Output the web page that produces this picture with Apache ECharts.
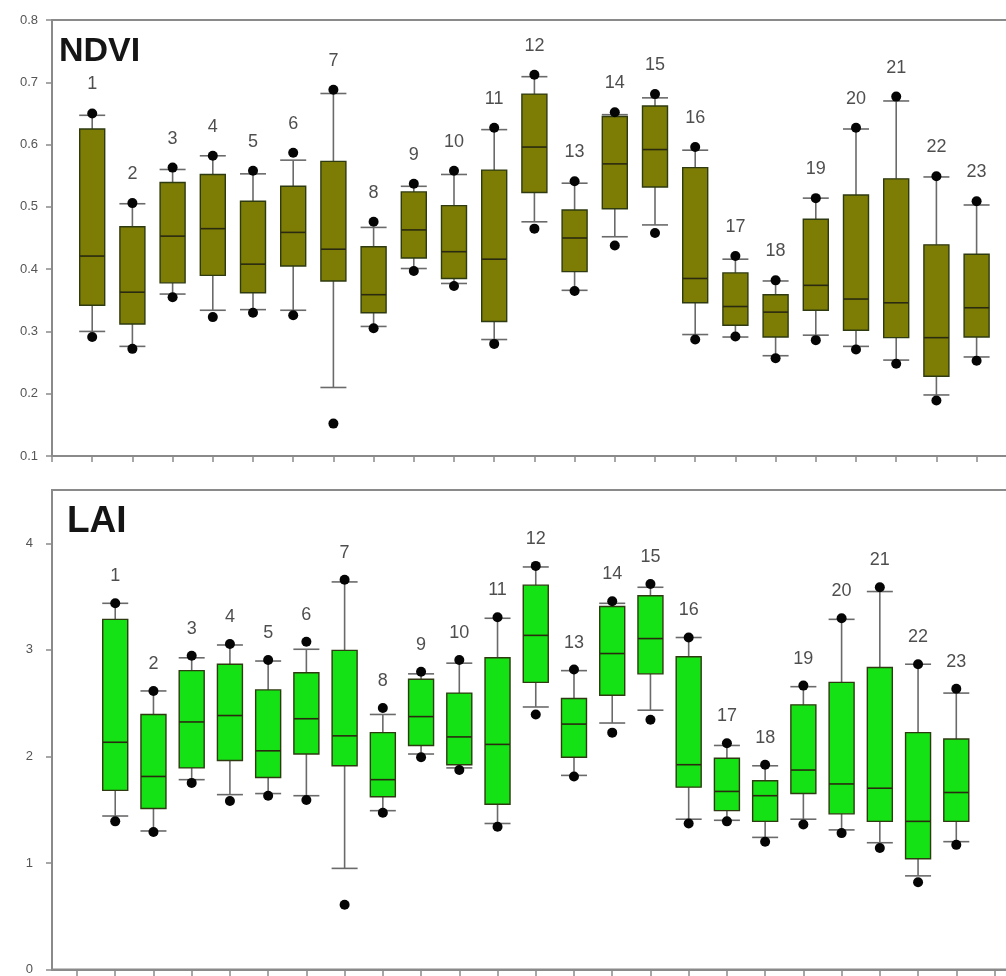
<!DOCTYPE html>
<html>
<head>
<meta charset="utf-8">
<script src="https://cdn.jsdelivr.net/npm/echarts@6/dist/echarts.min.js"></script>
<style>
html,body{margin:0;padding:0;background:#fff;overflow:hidden;}
#chart{width:1012px;height:976px;}
</style>
</head>
<body>
<div id="chart"></div>
<script>
// ---------- data ----------
const boxNames = ['1','2','3','4','5','6','7','8','9','10','11','12','13','14','15','16','17','18','19','20','21','22','23'];
const ndviTicks = [0.1,0.2,0.3,0.4,0.5,0.6,0.7,0.8];
const laiTicks = [0,1,2,3,4];

const ndviCapLo = [0.300,0.276,0.360,0.334,0.335,0.334,0.210,0.308,0.401,0.377,0.287,0.476,0.366,0.452,0.471,0.295,0.291,0.261,0.294,0.276,0.254,0.198,0.259];
const ndviQ1    = [0.342,0.312,0.378,0.390,0.362,0.405,0.381,0.330,0.418,0.385,0.316,0.523,0.396,0.497,0.532,0.346,0.310,0.291,0.334,0.302,0.290,0.228,0.291];
const ndviMed   = [0.421,0.363,0.453,0.465,0.408,0.459,0.432,0.359,0.463,0.428,0.416,0.596,0.450,0.569,0.592,0.385,0.340,0.331,0.374,0.352,0.346,0.290,0.338];
const ndviQ3    = [0.625,0.468,0.539,0.552,0.509,0.533,0.573,0.436,0.524,0.502,0.559,0.681,0.495,0.645,0.662,0.563,0.394,0.359,0.480,0.519,0.545,0.439,0.424];
const ndviCapHi = [0.647,0.505,0.560,0.582,0.553,0.575,0.682,0.467,0.533,0.552,0.624,0.709,0.538,0.648,0.675,0.591,0.416,0.381,0.514,0.625,0.670,0.548,0.503];
const ndviDotLo = [0.291,0.272,0.355,0.323,0.330,0.326,0.152,0.305,0.397,0.373,0.280,0.465,0.365,0.438,0.458,0.287,0.292,0.257,0.286,0.271,0.248,0.189,0.253];
const ndviDotHi = [0.650,0.506,0.563,0.582,0.558,0.587,0.688,0.476,0.537,0.558,0.627,0.712,0.541,0.652,0.681,0.596,0.421,0.382,0.514,0.627,0.677,0.549,0.509];

const laiCapLo = [1.45,1.31,1.79,1.65,1.66,1.64,0.96,1.50,2.03,1.90,1.38,2.47,1.83,2.32,2.44,1.42,1.41,1.25,1.42,1.32,1.20,0.89,1.21];
const laiQ1    = [1.69,1.52,1.90,1.97,1.81,2.03,1.92,1.63,2.11,1.93,1.56,2.70,2.00,2.58,2.78,1.72,1.50,1.40,1.66,1.47,1.40,1.05,1.40];
const laiMed   = [2.14,1.82,2.33,2.39,2.06,2.36,2.20,1.79,2.38,2.19,2.12,3.14,2.31,2.97,3.11,1.93,1.68,1.64,1.88,1.75,1.71,1.40,1.67];
const laiQ3    = [3.29,2.40,2.81,2.87,2.63,2.79,3.00,2.23,2.73,2.60,2.93,3.61,2.55,3.41,3.51,2.94,1.99,1.78,2.49,2.70,2.84,2.23,2.17];
const laiCapHi = [3.44,2.62,2.93,3.05,2.90,3.01,3.64,2.40,2.78,2.88,3.30,3.78,2.81,3.44,3.59,3.12,2.11,1.92,2.66,3.29,3.55,2.87,2.60];
const laiDotLo = [1.40,1.30,1.76,1.59,1.64,1.60,0.62,1.48,2.00,1.88,1.35,2.40,1.82,2.23,2.35,1.38,1.40,1.21,1.37,1.29,1.15,0.83,1.18];
const laiDotHi = [3.44,2.62,2.95,3.06,2.91,3.08,3.66,2.46,2.80,2.91,3.31,3.79,2.82,3.46,3.62,3.12,2.13,1.93,2.67,3.30,3.59,2.87,2.64];

// ---------- helpers ----------
function boxRows(lo, q1, med, q3, hi) {
  return boxNames.map((n, i) => [i + 1, lo[i], q1[i], med[i], q3[i], hi[i]]);
}
function dotRows(lo, hi) {
  const out = [];
  boxNames.forEach((n, i) => { out.push([i + 1, lo[i]]); out.push([i + 1, hi[i]]); });
  return out;
}
function labelRows(hi) {
  return boxNames.map((n, i) => ({ name: n, value: [i + 1, hi[i]] }));
}
function makeRender(fill) {
  return function (params, api) {
    const x = api.value(0);
    const lo = api.coord([x, api.value(1)]);
    const q1 = api.coord([x, api.value(2)]);
    const md = api.coord([x, api.value(3)]);
    const q3 = api.coord([x, api.value(4)]);
    const hi = api.coord([x, api.value(5)]);
    const cx = lo[0];
    const bw = 25, cw = 26;
    const wStyle = { stroke: '#6a6a6a', lineWidth: 1.6 };
    return {
      type: 'group',
      children: [
        { type: 'line', shape: { x1: cx, y1: hi[1], x2: cx, y2: q3[1] }, style: wStyle },
        { type: 'line', shape: { x1: cx, y1: q1[1], x2: cx, y2: lo[1] }, style: wStyle },
        { type: 'line', shape: { x1: cx - cw / 2, y1: hi[1], x2: cx + cw / 2, y2: hi[1] }, style: wStyle },
        { type: 'line', shape: { x1: cx - cw / 2, y1: lo[1], x2: cx + cw / 2, y2: lo[1] }, style: wStyle },
        { type: 'rect', shape: { x: cx - bw / 2, y: q3[1], width: bw, height: q1[1] - q3[1] },
          style: { fill: fill, stroke: '#2e3a10', lineWidth: 1.4 } },
        { type: 'line', shape: { x1: cx - bw / 2, y1: md[1], x2: cx + bw / 2, y2: md[1] },
          style: { stroke: '#2a2a10', lineWidth: 1.6 } }
      ]
    };
  };
}

const axisGrey = '#8a8a8a';
const fontFam = 'Liberation Sans, Arial, sans-serif';

const chart = echarts.init(document.getElementById('chart'), null, { renderer: 'canvas' });

const option = {
  animation: false,
  backgroundColor: '#ffffff',
  title: [
    { text: 'NDVI', left: 59, top: 35, padding: 0,
      textStyle: { fontSize: 34, fontWeight: 'bold', color: '#151515', fontFamily: fontFam } },
    { text: 'LAI', left: 67, top: 503, padding: 0,
      textStyle: { fontSize: 37, fontWeight: 'bold', color: '#151515', fontFamily: fontFam } }
  ],
  grid: [
    { left: 52, top: 20, width: 960, height: 436, show: true, borderColor: axisGrey, borderWidth: 2, backgroundColor: 'transparent' },
    { left: 52, top: 490, width: 960, height: 481, show: true, borderColor: axisGrey, borderWidth: 2, backgroundColor: 'transparent' },
    { left: 77, top: 490, width: 24 * 38.23, height: 481, show: false }
  ],
  xAxis: [
    { gridIndex: 0, type: 'value', min: 0, max: 960 / 40.2, interval: 1,
      axisLine: { show: true, onZero: false, lineStyle: { color: axisGrey, width: 2 } },
      axisTick: { show: true, length: 6, lineStyle: { color: axisGrey, width: 1.5 } },
      axisLabel: { show: false }, splitLine: { show: false } },
    { gridIndex: 1, type: 'value', min: 0, max: 1,
      axisLine: { show: true, onZero: false, lineStyle: { color: axisGrey, width: 2 } },
      axisTick: { show: false }, axisLabel: { show: false }, splitLine: { show: false } },
    { gridIndex: 2, type: 'value', min: 0, max: 24, interval: 1,
      axisLine: { show: false },
      axisTick: { show: true, length: 6, lineStyle: { color: axisGrey, width: 1.5 } },
      axisLabel: { show: false }, splitLine: { show: false } }
  ],
  yAxis: [
    { gridIndex: 0, type: 'value', min: 0.1, max: 0.8, interval: 0.1,
      axisLine: { show: true, onZero: false, lineStyle: { color: axisGrey, width: 2 } },
      axisTick: { show: true, length: 6, customValues: ndviTicks, lineStyle: { color: axisGrey, width: 1.5 } },
      axisLabel: { show: true, customValues: ndviTicks, margin: 14, fontSize: 13, color: '#555', fontFamily: fontFam,
                   formatter: v => Number(v).toFixed(1) },
      splitLine: { show: false } },
    { gridIndex: 1, type: 'value', min: 0, max: 4.5, interval: 1,
      axisLine: { show: true, onZero: false, lineStyle: { color: axisGrey, width: 2 } },
      axisTick: { show: true, length: 6, customValues: laiTicks, lineStyle: { color: axisGrey, width: 1.5 } },
      axisLabel: { show: true, customValues: laiTicks, margin: 19, fontSize: 13, color: '#555', fontFamily: fontFam },
      splitLine: { show: false } },
    { gridIndex: 2, type: 'value', min: 0, max: 4.5, show: false }
  ],
  series: [
    { type: 'custom', xAxisIndex: 0, yAxisIndex: 0, renderItem: makeRender('#7d7d06'),
      data: boxRows(ndviCapLo, ndviQ1, ndviMed, ndviQ3, ndviCapHi), clip: false, z: 2 },
    { type: 'scatter', xAxisIndex: 0, yAxisIndex: 0, symbol: 'circle', symbolSize: 10,
      itemStyle: { color: '#050505', opacity: 1 }, data: dotRows(ndviDotLo, ndviDotHi), z: 3 },
    { type: 'scatter', xAxisIndex: 0, yAxisIndex: 0, symbolSize: 0, data: labelRows(ndviDotHi), z: 4,
      label: { show: true, position: 'top', distance: 20, formatter: p => p.name, fontSize: 18, color: '#222', fontFamily: fontFam } },

    { type: 'custom', xAxisIndex: 2, yAxisIndex: 2, renderItem: makeRender('#14e214'),
      data: boxRows(laiCapLo, laiQ1, laiMed, laiQ3, laiCapHi), clip: false, z: 2 },
    { type: 'scatter', xAxisIndex: 2, yAxisIndex: 2, symbol: 'circle', symbolSize: 10,
      itemStyle: { color: '#050505', opacity: 1 }, data: dotRows(laiDotLo, laiDotHi), z: 3 },
    { type: 'scatter', xAxisIndex: 2, yAxisIndex: 2, symbolSize: 0, data: labelRows(laiDotHi), z: 4,
      label: { show: true, position: 'top', distance: 18, formatter: p => p.name, fontSize: 18, color: '#222', fontFamily: fontFam } }
  ]
};
chart.setOption(option);
</script>
</body>
</html>
